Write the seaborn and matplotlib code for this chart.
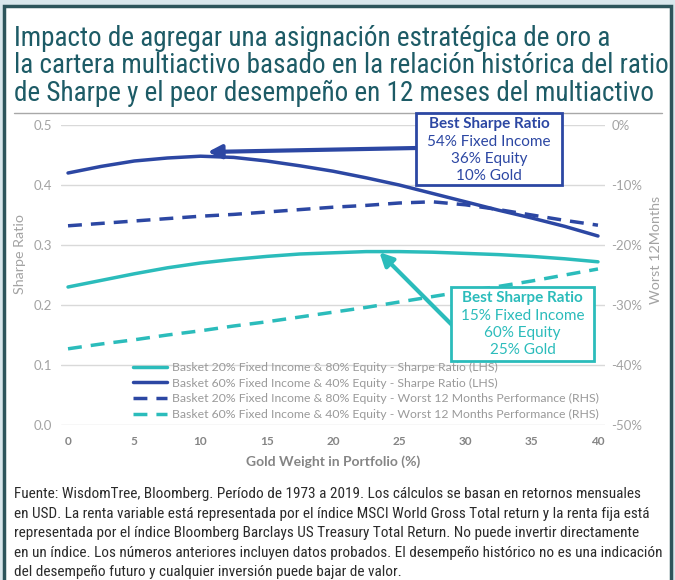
import matplotlib
matplotlib.use("Agg")
import matplotlib.pyplot as plt
from matplotlib.patches import Rectangle
from matplotlib.lines import Line2D
import seaborn as sns
import pandas as pd

# ---------------- data ----------------
gold = [0, 2.5, 5, 7.5, 10, 12.5, 15, 17.5, 20, 22.5, 25, 27.5, 30, 32.5, 35, 37.5, 40]
sharpe_20_80 = [0.230, 0.241, 0.252, 0.262, 0.270, 0.276, 0.281, 0.285, 0.287, 0.289, 0.289,
                0.288, 0.286, 0.284, 0.281, 0.277, 0.272]
sharpe_60_40 = [0.420, 0.431, 0.440, 0.445, 0.448, 0.446, 0.440, 0.432, 0.423, 0.412, 0.400,
                0.386, 0.372, 0.358, 0.345, 0.331, 0.315]
worst_20_80 = [-16.8, -16.4, -16.0, -15.6, -15.2, -14.9, -14.5, -14.1, -13.7, -13.4, -13.0,
               -12.8, -13.3, -14.1, -15.0, -15.9, -16.7]
worst_60_40 = [-37.3, -36.5, -35.8, -35.0, -34.3, -33.5, -32.8, -32.0, -31.2, -30.4, -29.5,
               -28.6, -27.7, -26.9, -26.0, -25.0, -24.0]

labels = [
    "Basket 20% Fixed Income & 80% Equity - Sharpe Ratio (LHS)",
    "Basket 60% Fixed Income & 40% Equity - Sharpe Ratio (LHS)",
    "Basket 20% Fixed Income & 80% Equity - Worst 12 Months Performance (RHS)",
    "Basket 60% Fixed Income & 40% Equity - Worst 12 Months Performance (RHS)",
]
left_ticks = [0.0, 0.1, 0.2, 0.3, 0.4, 0.5]
right_ticks = [0, -10, -20, -30, -40, -50]
right_ticklabels = ["0%", "-10%", "-20%", "-30%", "-40%", "-50%"]
x_ticks = [0, 5, 10, 15, 20, 25, 30, 35, 40]

title_lines = [
    "Impacto de agregar una asignación estratégica de oro a",
    "la cartera multiactivo basado en la relación histórica del ratio",
    "de Sharpe y el peor desempeño en 12 meses del multiactivo",
]
footer_lines = [
    "Fuente: WisdomTree, Bloomberg. Período de 1973 a 2019. Los cálculos se basan en retornos mensuales",
    "en USD. La renta variable está representada por el índice MSCI World Gross Total return y la renta fija está",
    "representada por el índice Bloomberg Barclays US Treasury Total Return. No puede invertir directamente",
    "en un índice. Los números anteriores incluyen datos probados. El desempeño histórico no es una indicación",
    "del desempeño futuro y cualquier inversión puede bajar de valor.",
]
box1_lines = ["Best Sharpe Ratio", "54% Fixed Income", "36% Equity", "10% Gold"]
box2_lines = ["Best Sharpe Ratio", "15% Fixed Income", "60% Equity", "25% Gold"]

df = pd.DataFrame({"gold": gold, "s2080": sharpe_20_80, "s6040": sharpe_60_40,
                   "w2080": worst_20_80, "w6040": worst_60_40})

# ---------------- style ----------------
sns.set_style("white")
plt.rcParams["font.family"] = ["Lato", "DejaVu Sans"]
NARROW = ["Roboto Condensed", "DejaVu Sans Condensed", "Roboto", "DejaVu Sans"]

DARK = "#2c47a3"
TEAL = "#2bbcbb"
GRAY = "#a3a3a3"
TITLE_C = "#1d5b66"
FRAME_C = "#2d555b"

W, H = 675, 580
fig = plt.figure(figsize=(W / 100, H / 100), dpi=100)
fig.patch.set_facecolor("#d9e7ec")
renderer = fig.canvas.get_renderer()

def fx(p):
    return p / W

def fy(p):
    return 1 - p / H

def fit_size(text, family, target_px, base=10.0, weight="normal"):
    t = fig.text(0, 0, text, family=family, fontsize=base, fontweight=weight)
    w = t.get_window_extent(renderer).width
    t.remove()
    return base * target_px / w

# frame
fig.add_artist(Rectangle((fx(4), fy(590)), (671 - 4) / W, (590 - 6) / H,
                         transform=fig.transFigure, facecolor="white",
                         edgecolor=FRAME_C, lw=2.5, zorder=-5))
# title
tsize = fit_size(title_lines[1], NARROW, 650)
for i, t in enumerate(title_lines):
    fig.text(fx(14), fy(46 + 27.5 * i), t, family=NARROW, fontsize=tsize,
             color=TITLE_C, ha="left", va="baseline")
fig.add_artist(Line2D([fx(14), fx(662)], [fy(113), fy(113)], transform=fig.transFigure,
                      color="#a8a8a8", lw=1.0))

# axes
ax = fig.add_axes([fx(61.4), fy(425), 543.2 / W, 300 / H])
ax.set_facecolor("none")
ax2 = ax.twinx()

sns.lineplot(data=df, x="gold", y="s2080", ax=ax, color=TEAL, lw=2.5, label=labels[0], legend=False)
sns.lineplot(data=df, x="gold", y="s6040", ax=ax, color=DARK, lw=2.5, label=labels[1], legend=False)
sns.lineplot(data=df, x="gold", y="w2080", ax=ax2, color=DARK, lw=2.5, label=labels[2],
             legend=False, linestyle=(0, (4, 2.6)))
sns.lineplot(data=df, x="gold", y="w6040", ax=ax2, color=TEAL, lw=2.5, label=labels[3],
             legend=False, linestyle=(0, (4, 2.6)))

ax.set_xlim(-0.5, 40.5)
ax.set_ylim(0, 0.5)
ax2.set_ylim(-50, 0)
ax.set_xticks(x_ticks)
ax.set_xticklabels([str(v) for v in x_ticks], fontweight="bold", color="#858585", fontsize=8.5)
ax.set_yticks(left_ticks)
ax.set_yticklabels([f"{v:.1f}" for v in left_ticks], color=GRAY, fontsize=9.5)
ax2.set_yticks(right_ticks)
ax2.set_yticklabels(right_ticklabels, color=GRAY, fontsize=9.5)
ax.grid(axis="y", color="#d9d9d9", lw=1.0)
ax.grid(axis="x", visible=False)
ax2.grid(False)
for a in (ax, ax2):
    for s in a.spines.values():
        s.set_visible(False)
ax.tick_params(axis="x", length=0, pad=8)
ax.tick_params(axis="y", length=0, pad=7)
ax2.tick_params(axis="y", length=0, pad=5)
ax.set_xlabel("")
ax.set_ylabel("")
ax2.set_ylabel("")

fig.text(fx(20), fy(254), "Sharpe Ratio", rotation=90, color=GRAY, fontsize=10.3,
         ha="center", va="center")
fig.text(fx(656), fy(250), "Worst 12Months", rotation=90, color=GRAY, fontsize=10.3,
         ha="center", va="center")
fig.text(fx(333), fy(462), "Gold Weight in Portfolio (%)", color="#858585", fontsize=10,
         fontweight="bold", ha="center", va="center")

# legend
h1, l1 = ax.get_legend_handles_labels()
h2, l2 = ax2.get_legend_handles_labels()
leg = ax2.legend(h1 + h2, l1 + l2, loc="upper left", bbox_to_anchor=(fx(133), fy(362)),
                 bbox_transform=fig.transFigure, frameon=False, fontsize=8.85,
                 handlelength=2.8, handletextpad=0.4, labelspacing=0.38,
                 borderpad=0, borderaxespad=0)
for t in leg.get_texts():
    t.set_color("#9a9a9a")

# annotations: arrows
ax2.annotate("", xy=(10.55, 0.455), xycoords=ax.transData,
             xytext=(417, H - 148), textcoords="figure pixels",
             arrowprops=dict(arrowstyle="-|>", color=DARK, lw=3, mutation_scale=20,
                             shrinkA=0, shrinkB=0), zorder=10)
ax2.annotate("", xy=(23.5, 0.288), xycoords=ax.transData,
             xytext=(453, H - 326), textcoords="figure pixels",
             arrowprops=dict(arrowstyle="-|>", color=TEAL, lw=3, mutation_scale=20,
                             shrinkA=0, shrinkB=0), zorder=10)

def draw_box(x0, x1, y0, y1, lines, ys, color):
    fig.add_artist(Rectangle((fx(x0), fy(y1)), (x1 - x0) / W, (y1 - y0) / H,
                             transform=fig.transFigure, facecolor="white",
                             edgecolor=color, lw=2.0, zorder=20))
    cx = (x0 + x1) / 2
    for i, (t, yy) in enumerate(zip(lines, ys)):
        fig.text(fx(cx), fy(yy), t, color=color, fontsize=11,
                 fontweight="bold" if i == 0 else "normal",
                 ha="center", va="center", zorder=21)

draw_box(416, 562, 113, 185, box1_lines, [124, 141.5, 159, 176], DARK)
draw_box(451, 594, 287, 361, box2_lines, [298, 316, 333.5, 350.5], TEAL)

# footer
fsize = fit_size(footer_lines[1], NARROW, 634)
for i, t in enumerate(footer_lines):
    fig.text(fx(14), fy(494 + 19.6 * i), t, family=NARROW, fontsize=fsize,
             color="#2b2b2b", ha="left", va="center")

fig.savefig("out.png", dpi=100, facecolor=fig.get_facecolor())
